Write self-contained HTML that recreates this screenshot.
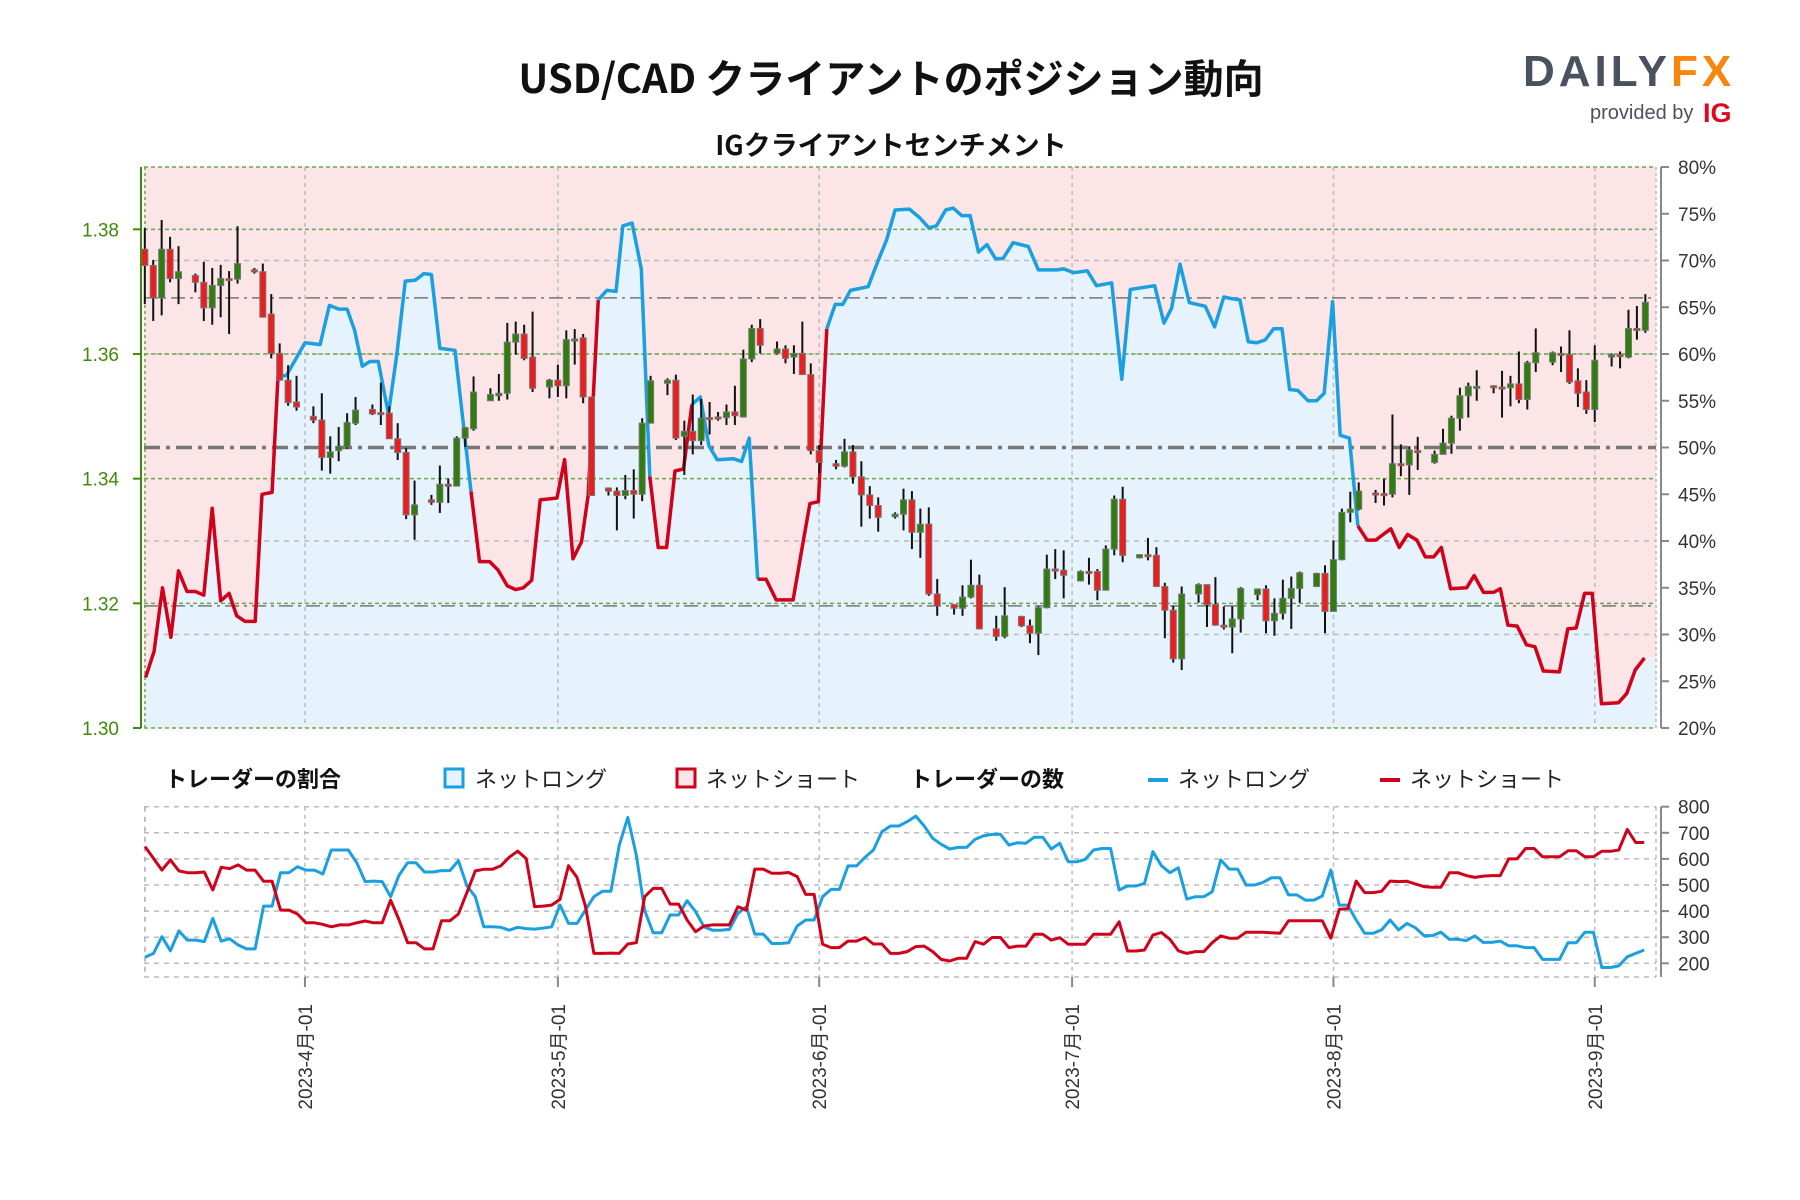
<!DOCTYPE html>
<html><head><meta charset="utf-8"><style>
html,body{margin:0;padding:0;background:#fff;}
svg{display:block;font-family:"Liberation Sans","Noto Sans CJK JP",sans-serif;}
</style></head><body>
<svg id="chart" width="1800" height="1200" viewBox="0 0 1800 1200" xmlns="http://www.w3.org/2000/svg">
<text x="891" y="93" text-anchor="middle" font-size="40" font-weight="bold" fill="#111" font-family="'Noto Sans CJK JP',sans-serif">USD/CAD クライアントのポジション動向</text>
<text x="891" y="155" text-anchor="middle" font-size="27" font-weight="bold" fill="#111" font-family="'Noto Sans CJK JP',sans-serif">IGクライアントセンチメント</text>
<g>
<text x="1523" y="86" font-size="44" font-weight="bold" letter-spacing="4" fill="#4a5260">DAILY<tspan fill="#f7860f">FX</tspan></text>
<text x="1590" y="119" font-size="20" fill="#4a5260">provided by</text>
<text x="1703" y="122" font-size="27" font-weight="bold" fill="#e3051b">IG</text>
</g>
<g id="main"></g>
<g id="legend">
<text x="165" y="787" font-size="22" font-weight="bold" fill="#111" font-family="'Noto Sans CJK JP',sans-serif">トレーダーの割合</text>
<rect x="445" y="769" width="18" height="18" fill="#e6f3fc" stroke="#1a9fe0" stroke-width="3"/>
<text x="475" y="787" font-size="22" fill="#222" font-family="'Noto Sans CJK JP',sans-serif">ネットロング</text>
<rect x="677" y="769" width="18" height="18" fill="#fbe5e6" stroke="#d0021b" stroke-width="3"/>
<text x="706" y="787" font-size="22" fill="#222" font-family="'Noto Sans CJK JP',sans-serif">ネットショート</text>
<text x="910" y="787" font-size="22" font-weight="bold" fill="#111" font-family="'Noto Sans CJK JP',sans-serif">トレーダーの数</text>
<line x1="1148" y1="780" x2="1168" y2="780" stroke="#1a9fe0" stroke-width="4"/>
<text x="1178" y="787" font-size="22" fill="#222" font-family="'Noto Sans CJK JP',sans-serif">ネットロング</text>
<line x1="1380" y1="780" x2="1400" y2="780" stroke="#d0021b" stroke-width="4"/>
<text x="1410" y="787" font-size="22" fill="#222" font-family="'Noto Sans CJK JP',sans-serif">ネットショート</text>
</g>
<g id="lower"></g>
<g id="dates"></g>
</svg>
<script>
// ---- data ----
const monthTickDays = [19, 49, 80, 110, 141, 172];
const monthTickLabels = ["2023-4月-01","2023-5月-01","2023-6月-01","2023-7月-01","2023-8月-01","2023-9月-01"];
const priceTicks = [1.30, 1.32, 1.34, 1.36, 1.38];
const pctTicks = [20,25,30,35,40,45,50,55,60,65,70,75,80];
const countTicks = [200,300,400,500,600,700,800];
const refPriceLevels = [1.3690, 1.3196];

const candleDays = [0,1,2,3,4,6,7,8,9,10,11,13,14,15,16,17,18,20,21,22,23,24,25,27,28,29,30,31,32,34,35,36,37,38,39,41,42,43,44,45,46,48,49,50,51,52,53,55,56,57,58,59,60,62,63,64,65,66,67,68,69,70,71,72,73,75,76,77,78,79,80,82,83,84,85,86,87,89,90,91,92,93,94,96,97,98,99,101,102,104,105,106,107,108,109,111,112,113,114,115,116,118,119,120,121,122,123,125,126,127,128,129,130,132,133,134,135,136,137,139,140,141,142,143,144,146,147,148,149,150,151,153,154,155,156,157,158,160,161,162,163,164,165,167,168,169,170,171,172,174,175,176,177,178];
const opens = [1.3768,1.3742,1.3690,1.3768,1.3721,1.3726,1.3715,1.3674,1.3710,1.3721,1.3720,1.3735,1.3732,1.3664,1.3601,1.3558,1.3523,1.3500,1.3494,1.3434,1.3445,1.3451,1.3489,1.3511,1.3506,1.3505,1.3464,1.3442,1.3342,1.3366,1.3362,1.3391,1.3388,1.3465,1.3480,1.3525,1.3533,1.3537,1.3619,1.3632,1.3595,1.3547,1.3558,1.3549,1.3623,1.3626,1.3531,1.3385,1.3380,1.3373,1.3381,1.3375,1.3489,1.3553,1.3558,1.3468,1.3476,1.3461,1.3498,1.3499,1.3498,1.3507,1.3499,1.3592,1.3641,1.3601,1.3608,1.3595,1.3601,1.3567,1.3445,1.3424,1.3420,1.3443,1.3403,1.3374,1.3357,1.3339,1.3343,1.3366,1.3314,1.3327,1.3215,1.3198,1.3192,1.3210,1.3229,1.3159,1.3147,1.3179,1.3164,1.3152,1.3193,1.3255,1.3253,1.3236,1.3251,1.3251,1.3221,1.3287,1.3367,1.3273,1.3278,1.3277,1.3227,1.3189,1.3111,1.3215,1.3230,1.3198,1.3165,1.3162,1.3175,1.3214,1.3223,1.3172,1.3184,1.3208,1.3224,1.3227,1.3248,1.3187,1.3270,1.3346,1.3351,1.3377,1.3376,1.3375,1.3424,1.3422,1.3445,1.3426,1.3439,1.3457,1.3497,1.3533,1.3548,1.3549,1.3547,1.3546,1.3552,1.3527,1.3586,1.3587,1.3601,1.3599,1.3557,1.3539,1.3511,1.3595,1.3599,1.3595,1.3641,1.3638];
const highs = [1.3802,1.3751,1.3815,1.3788,1.3773,1.3729,1.3748,1.3738,1.3743,1.3733,1.3805,1.3738,1.3745,1.3696,1.3617,1.3582,1.3565,1.3516,1.3537,1.3468,1.3483,1.3505,1.3531,1.3519,1.3554,1.3516,1.3489,1.3449,1.3397,1.3374,1.3421,1.3400,1.3468,1.3483,1.3564,1.3545,1.3568,1.3650,1.3652,1.3647,1.3668,1.3560,1.3583,1.3638,1.3640,1.3632,1.3531,1.3386,1.3386,1.3406,1.3415,1.3497,1.3565,1.3561,1.3567,1.3493,1.3535,1.3528,1.3523,1.3507,1.3519,1.3549,1.3607,1.3647,1.3656,1.3620,1.3614,1.3614,1.3652,1.3585,1.3454,1.3430,1.3464,1.3454,1.3428,1.3388,1.3370,1.3346,1.3384,1.3380,1.3352,1.3354,1.3239,1.3199,1.3229,1.3270,1.3246,1.3180,1.3226,1.3180,1.3174,1.3195,1.3278,1.3287,1.3285,1.3253,1.3273,1.3255,1.3293,1.3373,1.3387,1.3279,1.3305,1.3290,1.3233,1.3196,1.3227,1.3232,1.3230,1.3242,1.3195,1.3195,1.3226,1.3224,1.3229,1.3208,1.3238,1.3243,1.3251,1.3249,1.3261,1.3301,1.3352,1.3379,1.3394,1.3382,1.3400,1.3503,1.3455,1.3452,1.3467,1.3445,1.3480,1.3501,1.3546,1.3554,1.3574,1.3550,1.3573,1.3565,1.3604,1.3589,1.3641,1.3604,1.3612,1.3638,1.3577,1.3558,1.3614,1.3601,1.3604,1.3671,1.3677,1.3696];
const lows = [1.3680,1.3653,1.3662,1.3715,1.3680,1.3699,1.3653,1.3647,1.3659,1.3632,1.3713,1.3729,1.3659,1.3593,1.3558,1.3517,1.3509,1.3489,1.3413,1.3408,1.3428,1.3448,1.3486,1.3502,1.3486,1.3464,1.3430,1.3335,1.3302,1.3358,1.3345,1.3361,1.3388,1.3451,1.3477,1.3525,1.3525,1.3527,1.3599,1.3590,1.3539,1.3529,1.3531,1.3529,1.3583,1.3521,1.3373,1.3373,1.3317,1.3367,1.3336,1.3364,1.3489,1.3534,1.3462,1.3406,1.3439,1.3454,1.3471,1.3493,1.3486,1.3486,1.3498,1.3587,1.3601,1.3599,1.3585,1.3568,1.3567,1.3439,1.3409,1.3415,1.3418,1.3392,1.3323,1.3336,1.3315,1.3336,1.3317,1.3287,1.3273,1.3212,1.3180,1.3182,1.3180,1.3208,1.3158,1.3140,1.3144,1.3162,1.3136,1.3117,1.3192,1.3239,1.3208,1.3235,1.3230,1.3205,1.3221,1.3277,1.3266,1.3272,1.3269,1.3226,1.3144,1.3105,1.3093,1.3201,1.3162,1.3164,1.3158,1.3120,1.3153,1.3205,1.3152,1.3148,1.3174,1.3159,1.3201,1.3226,1.3152,1.3187,1.3269,1.3330,1.3349,1.3361,1.3357,1.3370,1.3404,1.3374,1.3414,1.3424,1.3439,1.3440,1.3477,1.3498,1.3525,1.3537,1.3498,1.3516,1.3521,1.3511,1.3571,1.3582,1.3571,1.3552,1.3515,1.3504,1.3491,1.3580,1.3577,1.3593,1.3623,1.3634];
const closes = [1.3742,1.3690,1.3768,1.3721,1.3732,1.3715,1.3674,1.3710,1.3721,1.3720,1.3745,1.3732,1.3659,1.3601,1.3558,1.3522,1.3515,1.3494,1.3434,1.3443,1.3452,1.3490,1.3510,1.3504,1.3505,1.3464,1.3442,1.3342,1.3358,1.3362,1.3391,1.3390,1.3465,1.3482,1.3539,1.3535,1.3537,1.3619,1.3632,1.3593,1.3545,1.3558,1.3549,1.3623,1.3624,1.3531,1.3373,1.3380,1.3373,1.3381,1.3375,1.3489,1.3557,1.3558,1.3465,1.3476,1.3461,1.3497,1.3497,1.3498,1.3507,1.3501,1.3592,1.3641,1.3614,1.3608,1.3593,1.3601,1.3567,1.3445,1.3426,1.3420,1.3443,1.3403,1.3374,1.3357,1.3338,1.3343,1.3366,1.3314,1.3327,1.3215,1.3196,1.3192,1.3210,1.3229,1.3159,1.3147,1.3180,1.3164,1.3152,1.3193,1.3255,1.3253,1.3245,1.3251,1.3250,1.3221,1.3287,1.3367,1.3277,1.3278,1.3277,1.3227,1.3189,1.3111,1.3215,1.3230,1.3198,1.3165,1.3163,1.3175,1.3224,1.3223,1.3172,1.3184,1.3208,1.3224,1.3249,1.3248,1.3187,1.3270,1.3346,1.3351,1.3380,1.3376,1.3375,1.3424,1.3422,1.3446,1.3443,1.3439,1.3457,1.3497,1.3533,1.3548,1.3548,1.3546,1.3546,1.3552,1.3527,1.3586,1.3602,1.3602,1.3599,1.3555,1.3537,1.3511,1.3590,1.3599,1.3598,1.3641,1.3640,1.3683];

const sentDays = [0.1,1.1,2.1,3.1,4.0,5.0,6.0,7.0,8.0,9.0,10.0,10.9,11.9,13.1,13.9,15.1,15.8,16.8,19.0,20.8,21.9,23.0,24.0,24.9,25.8,26.7,27.7,28.9,29.9,30.9,32.1,33.1,34.0,35.0,36.8,38.7,39.7,40.9,41.9,43.0,44.0,44.9,45.9,46.9,48.9,49.8,50.8,51.8,52.6,53.8,54.8,55.9,56.7,57.8,58.9,59.9,60.9,61.9,62.9,63.9,64.9,65.9,66.9,67.9,69.8,70.8,71.7,72.7,73.7,74.9,76.9,77.9,78.9,79.9,80.9,81.9,82.8,83.7,85.8,87.0,88.0,89.0,90.7,91.9,93.0,93.9,95.0,95.9,96.9,97.9,98.9,99.9,100.9,101.8,103.0,104.8,106.0,108.2,109.0,110.2,111.8,112.9,114.7,115.9,116.9,119.8,120.9,121.8,122.8,123.9,125.8,126.9,128.0,129.0,129.9,130.9,131.9,132.9,133.9,134.9,135.8,136.8,138.0,139.0,139.9,140.9,141.8,142.9,143.9,145.0,146.0,147.8,148.8,149.8,150.9,151.9,152.9,153.8,154.9,156.8,157.7,158.8,160.0,160.8,161.7,162.8,163.9,164.9,165.9,167.8,168.8,169.8,170.8,171.7,172.8,174.8,175.8,176.8,177.9];
const netLongPct = [25.4,28.2,35,29.7,36.8,34.6,34.6,34.2,43.5,33.6,34.4,32,31.4,31.4,45,45.2,57.6,57.7,61.2,61,65.2,64.8,64.8,62.5,58.7,59.2,59.2,53.6,60,67.8,67.9,68.6,68.5,60.6,60.4,45.3,37.8,37.8,36.9,35.2,34.8,35,35.8,44.4,44.6,48.7,38.1,39.9,44.9,65.8,66.8,66.7,73.7,74,69.1,46.9,39.3,39.3,47.5,47.7,54.6,55.4,50.2,48.7,48.8,48.5,51,35.9,35.9,33.7,33.7,38.9,44,44.2,62.7,65.3,65.3,66.8,67.2,70,72.2,75.4,75.5,74.6,73.5,73.7,75.4,75.6,74.8,74.8,70.9,71.7,70.2,70.2,71.9,71.5,69,69,69.1,68.7,68.9,67.3,67.6,57.3,66.9,67.3,63.3,64.9,69.6,65.5,65.1,62.9,66.1,65.9,65.8,61.3,61.2,61.5,62.7,62.7,56.2,56.1,55,55,55.8,65.6,51.3,51,41.6,40.1,40.1,41.3,39.3,40.7,40.1,38.3,38.3,39.3,34.9,35,36.3,34.5,34.5,34.9,31,30.9,28.9,28.7,26.1,26,30.6,30.7,34.4,34.4,22.6,22.7,23.7,26.2,27.5];
const signalChangeDays = [15.8,38.7,53.8,59.9,64.9,72.7,80.9,143.9];
const signalStart = "short";

const countLong = [223,238,302,248,324,289,289,283,372,285,294,270,255,255,419,419,547,547,570,557,557,542,634,634,634,585,513,515,513,455,538,585,585,550,550,555,555,593,497,455,340,340,338,327,338,333,331,335,340,423,353,353,404,455,476,476,653,759,615,402,
317,317,385,385,440,398,340,327,327,330,391,417,312,312,276,276,279,343,366,366,455,483,483,573,573,606,634,704,726,726,743,764,726,679,656,638,644,644,675,688,694,694,653,662,660,683,683,638,660,589,589,598,634,640,640,481,496,496,506,628,
574,547,566,446,455,455,474,596,561,561,500,500,510,528,528,462,462,442,442,458,557,423,423,366,315,315,328,366,328,353,336,306,306,319,292,292,287,305,280,280,285,267,267,260,260,215,215,215,279,279,319,319,184,184,190,225,238,251];
const countShort = [647,602,557,596,554,547,547,550,481,568,563,577,557,557,514,514,404,404,389,355,355,349,340,347,347,355,362,355,355,442,366,279,279,255,255,363,363,389,471,554,560,560,573,606,630,601,417,419,423,445,574,529,419,238,238,239,238,274,279,455,
487,487,427,427,366,321,343,347,347,347,417,404,561,561,545,545,548,532,464,464,273,260,260,285,285,299,274,274,238,238,245,264,266,245,215,209,219,219,283,273,299,299,260,266,266,311,311,289,298,273,273,273,311,311,311,359,247,247,251,308,
318,292,248,238,245,245,279,305,296,296,319,319,319,317,315,363,363,363,363,363,296,407,409,515,471,471,476,515,513,514,504,494,491,491,547,547,536,529,534,536,536,600,600,640,640,608,608,608,631,631,608,608,629,629,634,713,663,663];

// ---- scales ----
const PL=144, PR=1656, PT=167, PB=728;
const LT=807, LB=977;
const X = d => 144.8 + d*8.43;
const XL = k => 145 + k*8.47;
const YP = p => PB - (p-1.30)/0.09*(PB-PT);
const YS = v => PB - (v-20)/60*(PB-PT);
const YC = v => 806.7 + (800-v)*0.261;
const NS="http://www.w3.org/2000/svg";
function mk(tag, attrs, parent){const e=document.createElementNS(NS,tag);for(const k in attrs)e.setAttribute(k,attrs[k]);parent.appendChild(e);return e;}

const main=document.getElementById('main');
let bg=mk('rect',{x:PL,y:PT,width:PR-PL,height:PB-PT,fill:'#fbe5e6'},main);


let apts=sentDays.map((d,i)=>X(d).toFixed(1)+','+YS(netLongPct[i]).toFixed(1));
const lastY=YS(netLongPct[netLongPct.length-1]).toFixed(1);
let area=mk('polygon',{points:PL+','+PB+' '+PL+','+YS(netLongPct[0]).toFixed(1)+' '+apts.join(' ')+' '+PR+','+lastY+' '+PR+','+PB,fill:'#e6f3fc'},main);


pctTicks.forEach(t=>{ if(t%10===0 && t>20 && t<80 && t!==50){
  let g=mk('line',{x1:PL,x2:PR,y1:YS(t),y2:YS(t),stroke:'#bbb','stroke-width':1.5,'stroke-dasharray':'5,5'},main);
  
  
}});
priceTicks.forEach(t=>{
  let g=mk('line',{x1:PL,x2:PR,y1:YP(t),y2:YP(t),stroke:'#6aa84f','stroke-width':1.5,'stroke-dasharray':'4,3'},main);
  
  
});
mk('line',{x1:PL,x2:PR,y1:PT,y2:PT,stroke:'#6aa84f','stroke-width':1.5,'stroke-dasharray':'4,3'},main);
mk('line',{x1:PR,x2:PR,y1:PT,y2:PB,stroke:'#bbb','stroke-width':1.5,'stroke-dasharray':'3,3'},main);
mk('line',{x1:PL+1,x2:PL+1,y1:PT,y2:PB,stroke:'#6aa84f','stroke-width':1.5,'stroke-dasharray':'3,3'},main);
monthTickDays.forEach(d=>{
  let g=mk('line',{x1:X(d),x2:X(d),y1:PT,y2:PB,stroke:'#bbb','stroke-width':1.5,'stroke-dasharray':'4,4'},main);
  
  
});
refPriceLevels.forEach(p=>{
  let g=mk('line',{x1:PL,x2:PR,y1:YP(p),y2:YP(p),stroke:'#777','stroke-width':1.5,'stroke-dasharray':'14,5,3,5'},main);
  
  
});
let fifty=mk('line',{x1:PL,x2:PR,y1:YS(50),y2:YS(50),stroke:'#777','stroke-width':3.5,'stroke-dasharray':'16,6,4,6'},main);


function sideAt(d){let s=signalStart==='short'?0:1;signalChangeDays.forEach(c=>{if(d>=c-0.01)s=1-s;});return s;}
let segs=[];let cur=null;
for(let i=0;i<sentDays.length-1;i++){
  const s=sideAt(sentDays[i]);
  if(!cur||cur.s!==s){cur={s,pts:[[sentDays[i],netLongPct[i]]]};segs.push(cur);}
  cur.pts.push([sentDays[i+1],netLongPct[i+1]]);
}
segs.forEach(sg=>{
  let pl=mk('polyline',{points:sg.pts.map(p=>X(p[0]).toFixed(1)+','+YS(p[1]).toFixed(1)).join(' '),fill:'none',stroke:sg.s?'#1a9fe0':'#d0021b','stroke-width':3.5,'stroke-linejoin':'round'},main);
  
  
});
candleDays.forEach((d,i)=>{
  const o=opens[i],h=highs[i],l=lows[i],c=closes[i];
  const up=c>=o; const x=X(d);
  const g=mk('g',{},main);
  
  
  mk('line',{x1:x,x2:x,y1:YP(h),y2:YP(l),stroke:'#111','stroke-width':2},g);
  const yt=YP(Math.max(o,c)), yb=YP(Math.min(o,c));
  mk('rect',{x:x-3,y:yt,width:6,height:Math.max(2,yb-yt),fill:up?'#2e7d0e':'#ee1c1c',stroke:'#777','stroke-width':1},g);
});
mk('line',{x1:141,x2:141,y1:PT,y2:PB,stroke:'#3f8a0a','stroke-width':2},main);
priceTicks.forEach(t=>{
  mk('line',{x1:133,x2:141,y1:YP(t),y2:YP(t),stroke:'#3f8a0a','stroke-width':2},main);
  let tx=mk('text',{x:119,y:YP(t)+7,'text-anchor':'end','font-size':19,fill:'#3f8a0a'},main);
  tx.textContent=t.toFixed(2);
  
  
});
mk('line',{x1:1661,x2:1661,y1:PT,y2:PB,stroke:'#888','stroke-width':2},main);
pctTicks.forEach(t=>{
  mk('line',{x1:1661,x2:1669,y1:YS(t),y2:YS(t),stroke:'#888','stroke-width':2},main);
  let tx=mk('text',{x:1678,y:YS(t)+7,'font-size':19,fill:'#333'},main);
  tx.textContent=t+'%';
  
  
});

const low=document.getElementById('lower');
countTicks.forEach(t=>{
  let g=mk('line',{x1:PL,x2:PR,y1:YC(t),y2:YC(t),stroke:'#bbb','stroke-width':1.5,'stroke-dasharray':'5,5'},low);
  
  
});
mk('line',{x1:PL,x2:PR,y1:LB,y2:LB,stroke:'#bbb','stroke-width':1.5,'stroke-dasharray':'5,5'},low);
mk('line',{x1:PL+1,x2:PL+1,y1:YC(800),y2:LB,stroke:'#aaa','stroke-width':1.5,'stroke-dasharray':'5,5'},low);
mk('line',{x1:PR,x2:PR,y1:YC(800),y2:LB,stroke:'#bbb','stroke-width':1.5,'stroke-dasharray':'4,4'},low);
monthTickDays.forEach(d=>{
  mk('line',{x1:X(d),x2:X(d),y1:YC(800),y2:LB,stroke:'#bbb','stroke-width':1.5,'stroke-dasharray':'4,4'},low);
  mk('line',{x1:X(d),x2:X(d),y1:LB,y2:LB+10,stroke:'#888','stroke-width':2},low);
});
let lp=mk('polyline',{points:countLong.map((v,k)=>XL(k).toFixed(1)+','+YC(v).toFixed(1)).join(' '),fill:'none',stroke:'#1a9fe0','stroke-width':3,'stroke-linejoin':'round'},low);


let sp=mk('polyline',{points:countShort.map((v,k)=>XL(k).toFixed(1)+','+YC(v).toFixed(1)).join(' '),fill:'none',stroke:'#d0021b','stroke-width':3,'stroke-linejoin':'round'},low);


mk('line',{x1:1661,x2:1661,y1:YC(800),y2:LB,stroke:'#888','stroke-width':2},low);
countTicks.forEach(t=>{
  mk('line',{x1:1661,x2:1669,y1:YC(t),y2:YC(t),stroke:'#888','stroke-width':2},low);
  let tx=mk('text',{x:1678,y:YC(t)+7,'font-size':19,fill:'#333'},low);
  tx.textContent=t;
  
  
});
const dg=document.getElementById('dates');
monthTickDays.forEach((d,i)=>{
  const x=X(d)+7;
  let tx=mk('text',{x:x,y:1004,'text-anchor':'end','font-size':19,fill:'#333',transform:'rotate(-90 '+x+' 1004)'},dg);
  tx.textContent=monthTickLabels[i];
  
  
});
</script>
</body></html>
